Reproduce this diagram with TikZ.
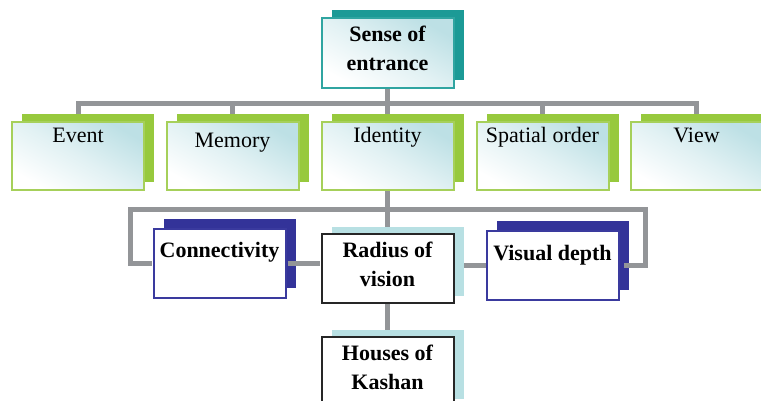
\documentclass[tikz,border=0pt]{standalone}
\usepackage{fontspec}
\setmainfont{Liberation Serif}
\usetikzlibrary{shadows,backgrounds}
\definecolor{busgray}{HTML}{939598}
\definecolor{greenline}{HTML}{A6D05A}
\definecolor{greenshade}{HTML}{97C93D}
\definecolor{tealline}{HTML}{30A5A1}
\definecolor{tealshade}{HTML}{1C9A96}
\definecolor{navyline}{HTML}{3A3A9E}
\definecolor{navyshade}{HTML}{333399}
\definecolor{paleshade}{HTML}{B8E0E3}
\definecolor{mist}{HTML}{BDE0E5}
\tikzset{
  box/.style={draw, line width=2pt, minimum width=132pt, minimum height=68pt,
    inner sep=0pt, align=center, font=\fontsize{22pt}{29pt}\selectfont},
  shadedbox/.style={box, top color=mist, bottom color=white, middle color=mist!45,
    shading angle=-30},
  tealbox/.style={shadedbox, draw=tealline, font=\fontsize{22pt}{29pt}\selectfont\bfseries,
    general shadow={fill=tealshade, shadow xshift=10pt, shadow yshift=7.5pt},
    text height=53pt, text depth=17pt},
  greenbox/.style={shadedbox, draw=greenline,
    general shadow={fill=greenshade, shadow xshift=10pt, shadow yshift=8pt},
    text height=21pt, text depth=47pt},
  navybox/.style={box, draw=navyline, fill=white, font=\fontsize{22pt}{29pt}\selectfont\bfseries,
    general shadow={fill=navyshade, shadow xshift=10pt, shadow yshift=10pt},
    text height=29pt, text depth=40pt},
  palebox/.style={box, draw=black!85, fill=white, font=\fontsize{22pt}{29pt}\selectfont\bfseries,
    general shadow={fill=paleshade, shadow xshift=10pt, shadow yshift=7pt},
    text height=52pt, text depth=17pt},
  bus/.style={draw=busgray, line width=5pt}
}
\begin{document}
\begin{tikzpicture}[x=1pt,y=-1pt]
\useasboundingbox (0,0) rectangle (761,401);
% top of the tree
\node[tealbox] (sense) at (387.5,53) {Sense of\\entrance};
% second row
\node[greenbox] (event) at (78,156) {Event};
\node[greenbox,text height=26pt,text depth=42pt] (memory) at (232.5,156) {Memory};
\node[greenbox] (identity) at (387.5,156) {Identity};
\node[greenbox] (spatial) at (542.5,156) {Spatial order};
\node[greenbox] (view) at (696.5,156) {View};
% third row
\node[navybox] (connect) at (219.5,263.5) {Connectivity};
\node[palebox] (radius) at (387.5,268.5) {Radius of\\vision};
\node[navybox] (depth) at (552.5,265.5) {Visual depth};
\node[palebox] (houses) at (387.5,371.5) {Houses of\\Kashan};
\coordinate (bus1) at (387.5,104);
\coordinate (bus2) at (387.5,210);
% connectors behind the boxes
\begin{scope}[on background layer]
\draw[bus] (sense.south) -- (bus1);
\draw[bus] (event.north) |- (bus1) -| (view.north);
\foreach \n in {memory,identity,spatial}
  \draw[bus] (\n.north) -- (\n.north |- bus1);
\draw[bus] (identity.south) -- (radius.north);
\draw[bus] (radius.south) -- (houses.north);
\draw[bus] (radius.east) -- (radius.east |- depth.west) -- (depth.west);
\end{scope}
% connectors over the shadows
\draw[bus,shorten <=1pt,shorten >=4pt] (connect.west) -- ([xshift=-22pt]connect.west)
  |- (bus2) -| ([xshift=26pt]depth.east) -- (depth.east);
\draw[bus,shorten <=1pt,shorten >=1pt] (connect.east) -- (connect.east -| radius.west);
\end{tikzpicture}
\end{document}
